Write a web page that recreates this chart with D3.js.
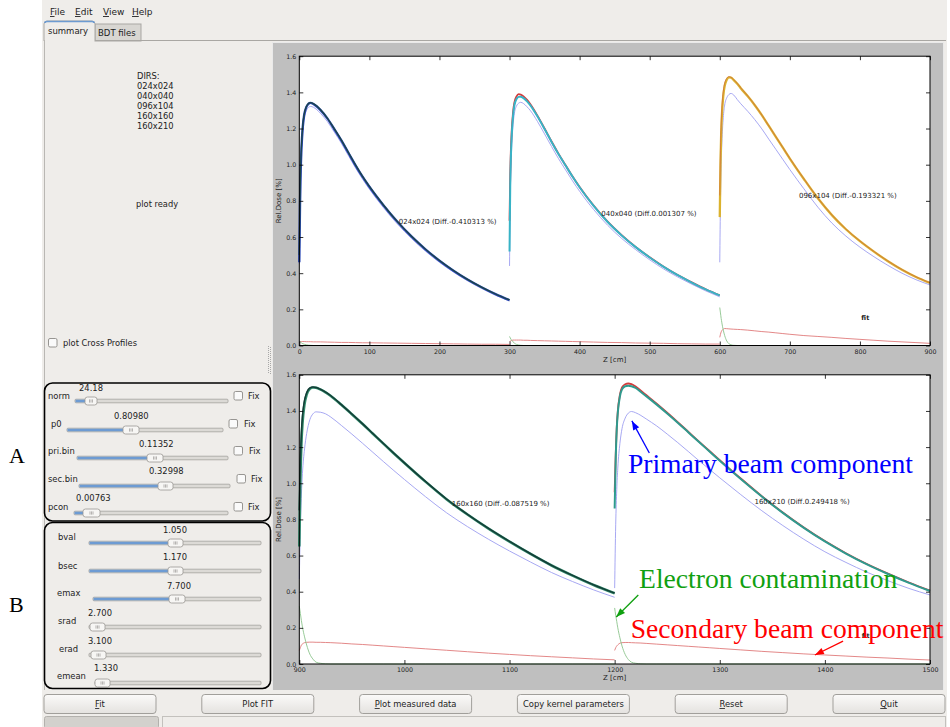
<!DOCTYPE html>
<html><head><meta charset="utf-8">
<script src="https://cdn.jsdelivr.net/npm/d3@7"></script>
<style>
html,body{margin:0;padding:0;background:#ffffff;}
svg{display:block;}
</style></head><body>
<svg id="c" width="950" height="727"></svg>
<script>
// ---- depth-dose data: local depth inside each field block (cm) ----
const depth = [0,1,2,3,5,7,10,13,16,20,25,30,40,50,60,70,80,90,100,120,140,160,180,200,220,240,260,280,300];
const fields = ["024x024","040x040","096x104","160x160","160x210"];
const fieldStart = [0,300,600,900,1200];
const fieldPanel = [0,0,0,1,1];
const diffs = ["-0.410313","0.001307","-0.193321","-0.087519","0.249418"];
const labelZ = [142, 431, 713, 1045, 1333];
const labelDose = [0.683, 0.727, 0.829, 0.886, 0.899];

const fit024  = [0.50,0.82,1.00,1.10,1.22,1.28,1.32,1.338,1.343,1.338,1.324,1.305,1.258,1.198,1.136,1.068,1.0,0.937,0.88,0.777,0.685,0.604,0.533,0.47,0.415,0.366,0.323,0.285,0.252];
const meas024 = [0.46,0.78,0.97,1.08,1.21,1.275,1.318,1.336,1.342,1.336,1.322,1.303,1.256,1.196,1.134,1.066,0.998,0.935,0.878,0.776,0.684,0.603,0.532,0.469,0.414,0.365,0.322,0.284,0.251];
const prim024 = [0.45,0.78,0.965,1.07,1.195,1.258,1.298,1.317,1.322,1.318,1.304,1.285,1.239,1.18,1.119,1.051,0.984,0.922,0.865,0.763,0.672,0.592,0.522,0.46,0.406,0.358,0.316,0.278,0.246];
const sec024  = [0.018,0.02,0.021,0.022,0.022,0.022,0.021,0.021,0.021,0.02,0.02,0.02,0.019,0.018,0.017,0.017,0.016,0.015,0.015,0.014,0.013,0.012,0.011,0.01,0.009,0.008,0.007,0.007,0.006];
const elec024 = [0.025,0.021,0.018,0.015,0.01,0.007,0.004,0.002,0.001,0,0,0,0,0,0,0,0,0,0,0,0,0,0,0,0,0,0,0,0];

const fit040  = [0.69,0.95,1.09,1.18,1.29,1.345,1.378,1.39,1.388,1.378,1.358,1.333,1.27,1.2,1.128,1.06,0.997,0.935,0.877,0.774,0.685,0.61,0.545,0.488,0.436,0.39,0.349,0.311,0.278];
const meas040 = [0.52,0.88,1.05,1.15,1.27,1.33,1.363,1.375,1.376,1.368,1.35,1.327,1.266,1.197,1.126,1.058,0.995,0.933,0.875,0.772,0.683,0.609,0.544,0.487,0.435,0.389,0.348,0.31,0.277];
const prim040 = [0.44,0.8,0.98,1.09,1.22,1.285,1.325,1.34,1.345,1.338,1.32,1.298,1.238,1.17,1.1,1.033,0.971,0.91,0.853,0.752,0.665,0.592,0.53,0.474,0.423,0.379,0.339,0.302,0.269];
const sec040  = [0.02,0.024,0.027,0.028,0.03,0.03,0.03,0.03,0.03,0.029,0.029,0.028,0.027,0.026,0.025,0.024,0.023,0.022,0.021,0.019,0.017,0.016,0.014,0.013,0.012,0.01,0.009,0.008,0.008];
const elec040 = [0.05,0.042,0.035,0.029,0.02,0.013,0.006,0.003,0.001,0,0,0,0,0,0,0,0,0,0,0,0,0,0,0,0,0,0,0,0];

const fit096  = [0.83,1.08,1.22,1.31,1.405,1.45,1.478,1.487,1.484,1.47,1.45,1.425,1.38,1.33,1.275,1.215,1.155,1.095,1.035,0.922,0.815,0.722,0.644,0.578,0.52,0.467,0.42,0.38,0.347];
const meas096 = [0.71,1.0,1.17,1.27,1.38,1.435,1.47,1.483,1.482,1.468,1.448,1.423,1.378,1.329,1.274,1.214,1.154,1.094,1.034,0.921,0.814,0.721,0.643,0.577,0.519,0.466,0.419,0.379,0.346];
const prim096 = [0.46,0.8,1.0,1.12,1.26,1.33,1.37,1.388,1.394,1.385,1.36,1.337,1.295,1.249,1.198,1.141,1.085,1.029,0.973,0.867,0.765,0.677,0.605,0.544,0.491,0.443,0.4,0.364,0.335];
const sec096  = [0.045,0.062,0.075,0.083,0.09,0.094,0.093,0.092,0.091,0.09,0.089,0.088,0.085,0.081,0.077,0.074,0.07,0.066,0.062,0.055,0.05,0.045,0.039,0.034,0.029,0.024,0.02,0.016,0.012];
const elec096 = [0.21,0.18,0.15,0.125,0.085,0.055,0.025,0.01,0.004,0.001,0,0,0,0,0,0,0,0,0,0,0,0,0,0,0,0,0,0,0];

const fit160  = [0.85,1.12,1.28,1.37,1.46,1.5,1.527,1.532,1.53,1.52,1.504,1.484,1.435,1.383,1.33,1.275,1.22,1.166,1.113,1.01,0.913,0.828,0.75,0.678,0.61,0.546,0.49,0.438,0.392];
const meas160 = [0.65,1.02,1.22,1.33,1.44,1.49,1.522,1.53,1.528,1.519,1.503,1.483,1.434,1.382,1.329,1.274,1.219,1.165,1.112,1.009,0.912,0.827,0.749,0.677,0.609,0.545,0.489,0.437,0.391];
const prim160 = [0.47,0.75,0.935,1.055,1.19,1.275,1.351,1.384,1.395,1.393,1.384,1.366,1.32,1.272,1.222,1.171,1.12,1.07,1.021,0.926,0.837,0.76,0.69,0.625,0.564,0.506,0.456,0.41,0.369];
const sec160  = [0.075,0.09,0.105,0.111,0.118,0.12,0.121,0.121,0.12,0.12,0.119,0.118,0.115,0.111,0.108,0.104,0.1,0.096,0.092,0.084,0.076,0.068,0.06,0.053,0.046,0.04,0.034,0.028,0.023];
const elec160 = [0.32,0.28,0.24,0.205,0.15,0.105,0.055,0.027,0.01,0.004,0.001,0,0,0,0,0,0,0,0,0,0,0,0,0,0,0,0,0,0];

const fit210  = [0.95,1.16,1.31,1.4,1.49,1.53,1.548,1.552,1.548,1.535,1.512,1.488,1.44,1.39,1.338,1.285,1.232,1.18,1.128,1.026,0.929,0.838,0.755,0.68,0.613,0.553,0.5,0.451,0.406];
const meas210 = [0.86,1.13,1.3,1.39,1.48,1.52,1.537,1.54,1.537,1.527,1.505,1.482,1.435,1.386,1.335,1.282,1.229,1.177,1.125,1.024,0.927,0.836,0.753,0.678,0.611,0.551,0.498,0.449,0.404];
const prim210 = [0.42,0.77,0.965,1.084,1.22,1.302,1.36,1.388,1.397,1.39,1.375,1.356,1.317,1.272,1.225,1.176,1.126,1.078,1.03,0.937,0.848,0.766,0.69,0.621,0.562,0.508,0.461,0.418,0.382];
const sec210  = [0.075,0.09,0.1,0.106,0.115,0.118,0.119,0.119,0.118,0.117,0.116,0.114,0.11,0.106,0.102,0.098,0.094,0.09,0.086,0.078,0.07,0.063,0.056,0.05,0.044,0.038,0.033,0.027,0.022];
const elec210 = [0.31,0.27,0.235,0.2,0.145,0.1,0.053,0.025,0.01,0.004,0.001,0,0,0,0,0,0,0,0,0,0,0,0,0,0,0,0,0,0];

const xTicksTop = [0,100,200,300,400,500,600,700,800,900];
const xTicksBottom = [900,1000,1100,1200,1300,1400,1500];
const yTicks = [0,0.2,0.4,0.6,0.8,1.0,1.2,1.4,1.6];

// fit-parameter sliders (group A) and kernel sliders (group B)
const paramNames = ["norm","p0","pri.bin","sec.bin","pcon"];
const paramValues = ["24.18","0.80980","0.11352","0.32998","0.00763"];
const kernelNames = ["bval","bsec","emax","srad","erad","emean"];
const kernelValues = ["1.050","1.170","7.700","2.700","3.100","1.330"];
const buttonLabels = ["Fit","Plot FIT","Plot measured data","Copy kernel parameters","Reset","Quit"];
const buttonMnemonic = [true,false,true,false,true,true];

// per-field table built from the arrays above
const series = [
  {fit:fit024, meas:meas024, prim:prim024, sec:sec024, elec:elec024},
  {fit:fit040, meas:meas040, prim:prim040, sec:sec040, elec:elec040},
  {fit:fit096, meas:meas096, prim:prim096, sec:sec096, elec:elec096},
  {fit:fit160, meas:meas160, prim:prim160, sec:sec160, elec:elec160},
  {fit:fit210, meas:meas210, prim:prim210, sec:sec210, elec:elec210}
];

// ---- styles ----
const GUI_FONT = "'DejaVu Sans', Verdana, sans-serif";
const SERIF = "'Liberation Serif', 'Times New Roman', serif";
const fieldStyle = [
  {meas:"#2645b5", mw:2.4, fit:"#1c4646", fw:1.3, fitTop:true},
  {meas:"#38b3c6", mw:2.0, fit:"#d23c3c", fw:1.8, fitTop:false},
  {meas:"#dbb22e", mw:2.3, fit:"#cf6a3f", fw:0.7, fitTop:true},
  {meas:"#2f8a6a", mw:2.6, fit:"#143d37", fw:1.5, fitTop:true},
  {meas:"#2f9a8e", mw:2.0, fit:"#d23c3c", fw:1.8, fitTop:false}
];
const compStyle = {prim:"#9d9ef0", sec:"#e07a7a", elec:"#8cc48c"};

const svg = d3.select("#c");

// ---- application window ----
svg.append("rect").attr("x",42).attr("y",0).attr("width",905).attr("height",727).attr("fill","#efedea");

// menu bar
const menu = [["File",50],["Edit",75],["View",103],["Help",132]];
menu.forEach(([t,x])=>{
  const tx = svg.append("text").attr("x",x).attr("y",15).attr("font-family",GUI_FONT).attr("font-size",9).attr("fill","#222");
  tx.append("tspan").attr("text-decoration","underline").text(t[0]);
  tx.append("tspan").text(t.slice(1));
});

// tabs
svg.append("rect").attr("x",95).attr("y",24).attr("width",46).attr("height",17).attr("fill","#d8d6d2").attr("stroke","#a9a7a3");
svg.append("text").attr("x",98).attr("y",36).attr("font-family",GUI_FONT).attr("font-size",8.5).attr("fill","#222").text("BDT files");
svg.append("line").attr("x1",44).attr("x2",946).attr("y1",40.5).attr("y2",40.5).attr("stroke","#a9a7a3");
svg.append("path").attr("d","M44,41 L44,24 Q44,21 47,21 L92,21 Q95,21 95,24 L95,41").attr("fill","#efedea").attr("stroke","#a9a7a3");
svg.append("path").attr("d","M45,23 Q45,21.5 47,21.5 L92,21.5 Q94,21.5 94,23").attr("fill","none").attr("stroke","#6d9bd1").attr("stroke-width",1.6);
svg.append("text").attr("x",48).attr("y",34).attr("font-family",GUI_FONT).attr("font-size",8.5).attr("fill","#222").text("summary");
svg.append("line").attr("x1",44.5).attr("x2",44.5).attr("y1",40).attr("y2",690).attr("stroke","#b9b7b3");

// directory list and status
const dirLines = ["DIRS:"].concat(fields);
dirLines.forEach((t,i)=>{
  svg.append("text").attr("x",137).attr("y",79+i*10).attr("font-family",GUI_FONT).attr("font-size",8.3).attr("fill","#222").text(t);
});
svg.append("text").attr("x",136).attr("y",207).attr("font-family",GUI_FONT).attr("font-size",8.3).attr("fill","#222").text("plot ready");

function checkbox(x,y){
  svg.append("rect").attr("x",x).attr("y",y).attr("width",8.5).attr("height",8.5).attr("rx",1.5)
    .attr("fill","#fafafa").attr("stroke","#8c8a87").attr("stroke-width",0.9);
}
checkbox(48.5,338.5);
svg.append("text").attr("x",63).attr("y",346).attr("font-family",GUI_FONT).attr("font-size",8.3).attr("fill","#222").text("plot Cross Profiles");

// splitter grip
for(let j=0;j<14;j++){
  svg.append("rect").attr("x",268).attr("y",346+j*2).attr("width",1).attr("height",1).attr("fill","#a8a8a8");
  svg.append("rect").attr("x",270).attr("y",347+j*2).attr("width",1).attr("height",1).attr("fill","#a8a8a8");
}

// sliders
function slider(name,val,L){
  svg.append("text").attr("x",L.lx).attr("y",L.ly+3).attr("font-family",GUI_FONT).attr("font-size",8.4).attr("fill","#222").text(name);
  svg.append("text").attr("x",L.vx).attr("y",L.vy+3).attr("font-family",GUI_FONT).attr("font-size",8.4).attr("fill","#222").text(val);
  svg.append("rect").attr("x",L.t0).attr("y",L.ty-1.8).attr("width",L.t1-L.t0).attr("height",3.6).attr("rx",1)
    .attr("fill","#dcdad6").attr("stroke","#a3a19d").attr("stroke-width",0.8);
  if(L.h0-L.t0>4){
    svg.append("rect").attr("x",L.t0+0.5).attr("y",L.ty-1.3).attr("width",L.h0-L.t0).attr("height",2.6)
      .attr("fill","#6d9bd3");
  }
  svg.append("rect").attr("x",L.h0).attr("y",L.ty-4).attr("width",L.h1-L.h0).attr("height",8).attr("rx",2.5)
    .attr("fill","#f7f6f4").attr("stroke","#9a9894").attr("stroke-width",0.8);
  const cx=(L.h0+L.h1)/2;
  [-1.5,0,1.5].forEach(o=>svg.append("line").attr("x1",cx+o).attr("x2",cx+o).attr("y1",L.ty-1.6).attr("y2",L.ty+1.6)
    .attr("stroke","#8a8884").attr("stroke-width",0.6));
  if(L.cb!==undefined){
    checkbox(L.cb,L.ly-4.5);
    svg.append("text").attr("x",L.fx).attr("y",L.ly+3).attr("font-family",GUI_FONT).attr("font-size",8.4).attr("fill","#222").text("Fix");
  }
}
const layoutA = [
  {lx:48,ly:396,vx:79,vy:388,t0:75,t1:228,ty:401,h0:85,h1:97,cb:234,fx:248},
  {lx:51,ly:424,vx:114,vy:416,t0:67,t1:223,ty:430,h0:123,h1:139,cb:229,fx:244},
  {lx:48,ly:451,vx:139,vy:444,t0:77,t1:228,ty:458,h0:147,h1:163,cb:234,fx:249},
  {lx:48,ly:479,vx:149,vy:471,t0:79,t1:230,ty:486,h0:158,h1:173,cb:237,fx:251},
  {lx:48,ly:507,vx:76,vy:498,t0:74,t1:228,ty:513,h0:83,h1:100,cb:234,fx:248}
];
const layoutB = [
  {lx:58,ly:537,vx:163,vy:530,t0:89,t1:261,ty:543,h0:168,h1:183},
  {lx:58,ly:566,vx:163,vy:557,t0:89,t1:261,ty:571,h0:168,h1:183},
  {lx:57,ly:593,vx:167,vy:586,t0:93,t1:261,ty:599,h0:169,h1:185},
  {lx:58,ly:621,vx:88,vy:613,t0:89,t1:261,ty:627,h0:90,h1:105},
  {lx:59,ly:649,vx:88,vy:641,t0:89,t1:261,ty:655,h0:91,h1:106},
  {lx:57,ly:676,vx:94,vy:668,t0:95,t1:261,ty:683,h0:95,h1:110}
];
paramNames.forEach((n,i)=>slider(n,paramValues[i],layoutA[i]));
kernelNames.forEach((n,i)=>slider(n,kernelValues[i],layoutB[i]));

// group frames
svg.append("rect").attr("x",44.5).attr("y",383).attr("width",226).attr("height",138).attr("rx",8)
  .attr("fill","none").attr("stroke","#000").attr("stroke-width",1.6);
svg.append("rect").attr("x",44.5).attr("y",522.5).attr("width",226).attr("height",166).attr("rx",8)
  .attr("fill","none").attr("stroke","#000").attr("stroke-width",1.6);

// buttons
const defs = svg.append("defs");
const grad = defs.append("linearGradient").attr("id","btn").attr("x1",0).attr("x2",0).attr("y1",0).attr("y2",1);
grad.append("stop").attr("offset","0").attr("stop-color","#fbfaf9");
grad.append("stop").attr("offset","1").attr("stop-color","#e4e2df");
buttonLabels.forEach((b,i)=>{
  const cx = 100 + i*157.8;
  svg.append("rect").attr("x",cx-56).attr("y",694.5).attr("width",112).attr("height",19).attr("rx",3)
    .attr("fill","url(#btn)").attr("stroke","#a19f9b");
  const t = svg.append("text").attr("x",cx).attr("y",707).attr("text-anchor","middle")
    .attr("font-family",GUI_FONT).attr("font-size",8.4).attr("fill","#222");
  if(buttonMnemonic[i]){
    t.append("tspan").attr("text-decoration","underline").text(b[0]);
    t.append("tspan").text(b.slice(1));
  } else t.text(b);
});
// status bar
svg.append("rect").attr("x",44.5).attr("y",716.5).attr("width",114).attr("height",12).attr("rx",2).attr("fill","#d3d1cd").attr("stroke","#b3b1ad");
svg.append("rect").attr("x",162.5).attr("y",716.5).attr("width",783).attr("height",12).attr("fill","#efedea").attr("stroke","#c3c1bd");

// ---- matplotlib canvas ----
svg.append("rect").attr("x",272).attr("y",42).attr("width",672).attr("height",648).attr("fill","#bfbfbf");
svg.append("line").attr("x1",272.5).attr("x2",272.5).attr("y1",42).attr("y2",690).attr("stroke","#e9e9e9");
svg.append("line").attr("x1",272).attr("x2",944).attr("y1",42.5).attr("y2",42.5).attr("stroke","#e9e9e9");
svg.append("line").attr("x1",943.5).attr("x2",943.5).attr("y1",42).attr("y2",690).attr("stroke","#e9e9e9");

const panels = [
  {x:d3.scaleLinear([0,900],[299.3,930]), y:d3.scaleLinear([0,1.6],[345.5,56.2]), ticks:xTicksTop},
  {x:d3.scaleLinear([900,1500],[299.3,930]), y:d3.scaleLinear([0,1.6],[664,374.8]), ticks:xTicksBottom}
];

panels.forEach(p=>{
  const [x0,x1]=p.x.range(), [y0,y1]=p.y.range();
  svg.append("rect").attr("x",x0).attr("y",y1).attr("width",x1-x0).attr("height",y0-y1).attr("fill","#fff");
});

// curves
fields.forEach((f,i)=>{
  const p = panels[fieldPanel[i]], s = series[i], st = fieldStyle[i];
  const line = d3.line().x((v,k)=>p.x(fieldStart[i]+depth[k])).y(v=>p.y(v)).curve(d3.curveMonotoneX);
  const g = svg.append("g");
  const draw = (arr,color,w)=>g.append("path").attr("d",line(arr)).attr("fill","none")
      .attr("stroke",color).attr("stroke-width",w).attr("stroke-linejoin","round");
  draw(s.prim,compStyle.prim,0.9);
  draw(s.sec,compStyle.sec,0.9);
  draw(s.elec,compStyle.elec,0.9);
  if(st.fitTop){ draw(s.meas,st.meas,st.mw); draw(s.fit,st.fit,st.fw); }
  else { draw(s.fit,st.fit,st.fw); draw(s.meas,st.meas,st.mw); }
  svg.append("text").attr("x",p.x(labelZ[i])).attr("y",p.y(labelDose[i])).attr("dy","0.35em")
    .attr("font-family",GUI_FONT).attr("font-size",7).attr("fill","#222")
    .text(`${f} (Diff.${diffs[i]} %)`);
});

// axes: inward ticks on all four sides
panels.forEach((p,pi)=>{
  const [x0,x1]=p.x.range(), [y0,y1]=p.y.range();
  const ax = svg.append("g").attr("transform",`translate(0,${y0})`)
    .call(d3.axisBottom(p.x).tickValues(p.ticks).tickSizeInner(-4).tickSizeOuter(0).tickPadding(4).tickFormat(d3.format("d")));
  const at = svg.append("g").attr("transform",`translate(0,${y1})`)
    .call(d3.axisTop(p.x).tickValues(p.ticks).tickSizeInner(-4).tickSizeOuter(0).tickFormat(""));
  const ay = svg.append("g").attr("transform",`translate(${x0},0)`)
    .call(d3.axisLeft(p.y).tickValues(yTicks).tickSizeInner(-4).tickSizeOuter(0).tickPadding(3).tickFormat(d3.format(".1f")));
  const ar = svg.append("g").attr("transform",`translate(${x1},0)`)
    .call(d3.axisRight(p.y).tickValues(yTicks).tickSizeInner(-4).tickSizeOuter(0).tickFormat(""));
  [ax,at,ay,ar].forEach(a=>{
    a.select(".domain").remove();
    a.selectAll("line").attr("stroke","#000").attr("stroke-width",0.8);
    a.selectAll("text").attr("font-family",GUI_FONT).attr("font-size",6.3).attr("fill","#222");
  });
  svg.append("rect").attr("x",x0).attr("y",y1).attr("width",x1-x0).attr("height",y0-y1)
    .attr("fill","none").attr("stroke","#000").attr("stroke-width",1);
  svg.append("text").attr("x",(x0+x1)/2).attr("y",y0+16).attr("text-anchor","middle")
    .attr("font-family",GUI_FONT).attr("font-size",7).attr("fill","#222").text("Z [cm]");
  svg.append("text").attr("transform",`translate(281,${(y0+y1)/2}) rotate(-90)`).attr("text-anchor","middle")
    .attr("font-family",GUI_FONT).attr("font-size",7).attr("fill","#222").text("Rel.Dose [%]");
  // legend entry
  const lz = pi===0 ? 802 : 1435;
  svg.append("text").attr("x",p.x(lz)).attr("y",p.y(0.155)).attr("dy","0.35em")
    .attr("font-family",GUI_FONT).attr("font-size",6.5).attr("font-weight","bold").attr("fill","#222").text("fit");
});

// ---- annotations ----
function arrow(x1,y1,x2,y2,color){
  svg.append("line").attr("x1",x1).attr("y1",y1).attr("x2",x2).attr("y2",y2).attr("stroke",color).attr("stroke-width",1.3);
  const a=Math.atan2(y2-y1,x2-x1), L=9, W=3.4;
  const pts=[[x2,y2],
    [x2-L*Math.cos(a)+W*Math.sin(a), y2-L*Math.sin(a)-W*Math.cos(a)],
    [x2-L*Math.cos(a)-W*Math.sin(a), y2-L*Math.sin(a)+W*Math.cos(a)]];
  svg.append("polygon").attr("points",pts.map(q=>q.join(",")).join(" ")).attr("fill",color);
}
const pb = panels[1];
svg.append("text").attr("x",pb.x(1212.6)).attr("y",pb.y(1.055)).attr("font-family",SERIF).attr("font-size",27.6)
  .attr("fill","#0000ff").text("Primary beam component");
arrow(pb.x(1233),pb.y(1.167),pb.x(1216.4),pb.y(1.345),"#0000ff");
svg.append("text").attr("x",pb.x(1223.2)).attr("y",pb.y(0.419)).attr("font-family",SERIF).attr("font-size",27.6)
  .attr("fill","#10a010").text("Electron contamination");
arrow(pb.x(1222.5),pb.y(0.382),pb.x(1201.5),pb.y(0.26),"#10a010");
svg.append("text").attr("x",pb.x(1215.3)).attr("y",pb.y(0.142)).attr("font-family",SERIF).attr("font-size",27.6)
  .attr("fill","#ff0000").text("Secondary beam component");
arrow(pb.x(1417.3),pb.y(0.127),pb.x(1390.5),pb.y(0.05),"#ff0000");

svg.append("text").attr("x",9).attr("y",463).attr("font-family",SERIF).attr("font-size",22).attr("fill","#000").text("A");
svg.append("text").attr("x",9).attr("y",612).attr("font-family",SERIF).attr("font-size",22).attr("fill","#000").text("B");
</script>
</body></html>
